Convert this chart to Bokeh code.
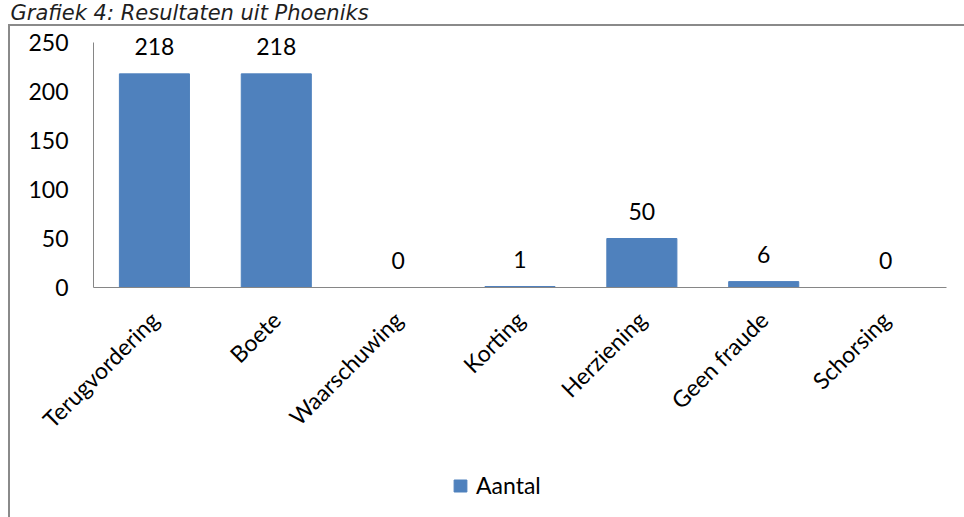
from bokeh.plotting import figure
from bokeh.models import (Range1d, Legend, LegendItem, Label,
                          FixedTicker, ColumnDataSource)
from bokeh.embed import file_html
from bokeh.resources import INLINE
from bokeh.core.properties import value
import math

title_text = "Grafiek 4: Resultaten uit Phoeniks"
categories = ["Terugvordering", "Boete", "Waarschuwing", "Korting",
              "Herziening", "Geen fraude", "Schorsing"]
counts = [218, 218, 0, 1, 50, 6, 0]
series_name = "Aantal"
y_ticks = [0, 50, 100, 150, 200, 250]

FONT = "Lato"
FS = "23px"
BAR = "#4F81BD"
GRAY = "#8a8a8a"
AXIS = "#868686"

W, H = 964, 517
n = len(categories)
slot_pos = [i + 0.5 for i in range(n)]          # centre of each category slot

src = ColumnDataSource(dict(x=slot_pos, val=counts,
                            lab=[str(v) for v in counts]))

# chart-area border (left + top), drawn behind a transparent canvas
border_css = {
    "background-color": "white",
    "background-image": "linear-gradient(%s,%s), linear-gradient(%s,%s)" % (GRAY, GRAY, GRAY, GRAY),
    "background-size": "2px 600px, 1000px 2px",
    "background-position": "8px 24px, 8px 24px",
    "background-repeat": "no-repeat",
}

# the frame covers the whole canvas; axes are pinned at x=0 / y=0
# plot area: 93px..946px wide, value 0 at 287px and 250 at 42px
px_per_slot = (946 - 93) / n
px_per_unit = (287 - 42) / 250
x_range = Range1d(-93 / px_per_slot, n + (W - 946) / px_per_slot)
y_range = Range1d(-(H - 287) / px_per_unit, 287 / px_per_unit)

p = figure(width=W, height=H, output_backend="svg", toolbar_location=None,
           x_range=x_range, y_range=y_range, title_location=None,
           min_border_left=0, min_border_right=0,
           min_border_top=0, min_border_bottom=0,
           background_fill_color=None, border_fill_color=None,
           outline_line_color=None, styles=border_css)
p.xgrid.visible = False
p.ygrid.visible = False

r = p.vbar(x="x", top="val", width=0.575, source=src,
           fill_color=BAR, line_color=BAR)

p.text(x="x", y="val", text="lab", source=src, text_align="center",
       text_baseline="alphabetic", y_offset=-27,
       text_font=value(FONT), text_font_size=FS, text_color="black")

# y axis
p.yaxis.fixed_location = 0
p.yaxis.ticker = FixedTicker(ticks=y_ticks)
p.yaxis.bounds = (0, 250)
p.yaxis.axis_line_color = AXIS
p.yaxis.major_tick_line_color = None
p.yaxis.minor_tick_line_color = None
p.yaxis.major_tick_out = 0
p.yaxis.major_tick_in = 0
p.yaxis.major_label_standoff = 25
p.yaxis.major_label_text_font = FONT
p.yaxis.major_label_text_font_size = FS
p.yaxis.major_label_text_color = "black"

# x axis (categories)
p.xaxis.fixed_location = 0
p.xaxis.bounds = (0, n)
p.xaxis.ticker = FixedTicker(ticks=slot_pos)
p.xaxis.major_label_overrides = {pos: cat for pos, cat in zip(slot_pos, categories)}
p.xaxis.axis_line_color = AXIS
p.xaxis.major_tick_line_color = None
p.xaxis.minor_tick_line_color = None
p.xaxis.major_tick_out = 0
p.xaxis.major_tick_in = 0
p.xaxis.major_label_orientation = math.pi / 4
p.xaxis.major_label_standoff = 28
p.xaxis.major_label_text_font = FONT
p.xaxis.major_label_text_font_size = FS
p.xaxis.major_label_text_color = "black"

# title (screen units: x from left, y from bottom of canvas)
p.add_layout(Label(x=10, y=H - 12, x_units="screen", y_units="screen",
                   text=title_text, text_font="DejaVu Sans",
                   text_font_style="italic", text_font_size="21px",
                   text_color="#1f1f1f", text_baseline="alphabetic"))

legend = Legend(items=[LegendItem(label=series_name, renderers=[r])],
                location=(452, 18), orientation="horizontal",
                border_line_color=None, background_fill_alpha=0,
                padding=0, margin=0, glyph_width=16, glyph_height=15,
                label_standoff=8, label_text_font=FONT,
                label_text_font_size=FS, label_text_color="black")
p.add_layout(legend, "center")

open("out.html", "w").write(file_html(p, INLINE))
